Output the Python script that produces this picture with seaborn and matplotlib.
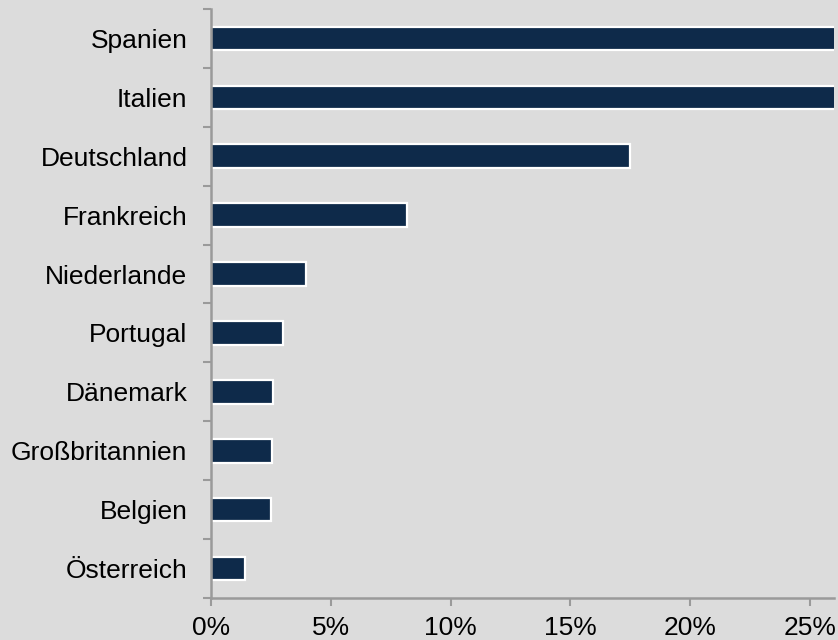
import numpy as np
import pandas as pd
import matplotlib
matplotlib.use("Agg")
import matplotlib.pyplot as plt
import seaborn as sns
from matplotlib.ticker import FixedLocator, PercentFormatter

# --- Data ---
countries = ["Spanien", "Italien", "Deutschland", "Frankreich", "Niederlande",
             "Portugal", "Dänemark", "Großbritannien", "Belgien", "Österreich"]
shares = [27.5, 26.8, 17.5, 8.2, 3.95, 3.0, 2.6, 2.55, 2.5, 1.4]  # percent

df = pd.DataFrame({"Land": countries, "Anteil": shares})

# --- Style ---
bg = "#dcdcdc"
bar_color = "#0e2a4a"
axis_color = "#9a9a9a"

sns.set_style("white")
plt.rcParams["font.family"] = ["Liberation Sans", "DejaVu Sans"]

fig = plt.figure(figsize=(8.38, 6.4), dpi=100, facecolor=bg)
ax = fig.add_axes([0.2518, 0.0656, 0.7432, 0.9204])
ax.set_facecolor(bg)

sns.barplot(data=df, x="Anteil", y="Land", color=bar_color, width=0.4,
            edgecolor="white", linewidth=1.6, saturation=1, ax=ax)

ax.set_xlim(0, 26.0)
ax.set_ylim(len(countries) - 0.5, -0.5)
ax.set_xticks(np.arange(0, 26, 5))
ax.xaxis.set_major_formatter(PercentFormatter(decimals=0))
ax.set_xlabel("")
ax.set_ylabel("")

# category boundaries get the small tick marks, labels sit in between
ax.yaxis.set_minor_locator(FixedLocator(np.arange(-0.5, len(countries), 1)))
ax.tick_params(axis="y", which="major", left=True, length=0, pad=17,
               labelsize=19, colors="black")
ax.tick_params(axis="y", which="minor", left=True, length=6, width=1.5,
               color=axis_color)
ax.tick_params(axis="x", which="major", bottom=True, length=6, width=1.5,
               color=axis_color, labelsize=19, pad=7, labelcolor="black")

for side in ["top", "right"]:
    ax.spines[side].set_visible(False)
for side in ["left", "bottom"]:
    ax.spines[side].set_color(axis_color)
    ax.spines[side].set_linewidth(1.8)

fig.savefig("out.png", dpi=100, facecolor=bg)
